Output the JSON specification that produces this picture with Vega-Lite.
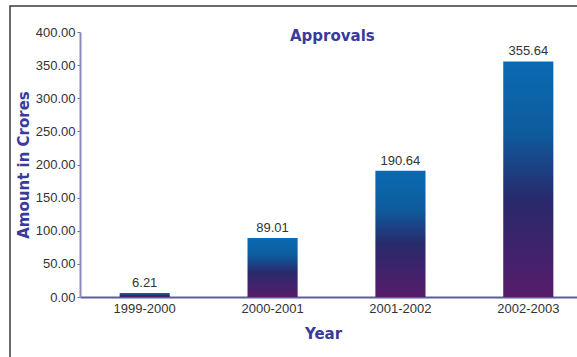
{
  "$schema": "https://vega.github.io/schema/vega-lite/v6.json",
  "autosize": "none",
  "padding": {"left": 10, "top": 6, "right": 0, "bottom": 0},
  "width": 600,
  "height": 360,
  "background": "white",
  "title": {
    "text": "Approvals",
    "font": "DejaVu Sans",
    "fontSize": 15,
    "fontWeight": "bold",
    "color": "#3a3a9c",
    "anchor": "start",
    "frame": "group",
    "dx": 280,
    "dy": 38,
    "offset": 0
  },
  "data": {
    "values": [
      {"year": "1999-2000", "amount": 6.21},
      {"year": "2000-2001", "amount": 89.01},
      {"year": "2001-2002", "amount": 190.64},
      {"year": "2002-2003", "amount": 355.64}
    ]
  },
  "encoding": {
    "x": {
      "field": "year",
      "type": "nominal",
      "sort": null,
      "scale": {"range": [70, 583], "paddingInner": 0.608, "paddingOuter": 0.31},
      "axis": {
        "title": "Year",
        "titleFont": "DejaVu Sans",
        "titleFontSize": 15,
        "titleFontWeight": "bold",
        "titleColor": "#3a3a9c",
        "titleX": 313,
        "titlePadding": 11,
        "labelAngle": 0,
        "labelFont": "Liberation Sans",
        "labelFontSize": 13,
        "labelColor": "#333333",
        "labelPadding": 5,
        "ticks": false,
        "domainColor": "#5c5ca4",
        "domainWidth": 2,
        "offset": -69
      }
    },
    "y": {
      "field": "amount",
      "type": "quantitative",
      "scale": {"domain": [0, 400], "range": [291, 26], "nice": false},
      "axis": {
        "title": "Amount in Crores",
        "titleFont": "DejaVu Sans",
        "titleFontSize": 15,
        "titleFontWeight": "bold",
        "titleColor": "#3a3a9c",
        "titlePadding": 4,
        "values": [0, 50, 100, 150, 200, 250, 300, 350, 400],
        "format": ".2f",
        "labelFont": "Liberation Sans",
        "labelFontSize": 13,
        "labelColor": "#333333",
        "labelPadding": 2,
        "tickSize": 3,
        "tickColor": "#6a6aaa",
        "domainColor": "#8a8ac0",
        "domainWidth": 2,
        "grid": false,
        "offset": -70
      }
    }
  },
  "layer": [
    {
      "mark": {
        "type": "bar",
        "color": {
          "gradient": "linear",
          "x1": 0, "y1": 0, "x2": 0, "y2": 1,
          "stops": [
            {"offset": 0, "color": "#0b6ab2"},
            {"offset": 0.3, "color": "#0d5c9e"},
            {"offset": 0.58, "color": "#282a6c"},
            {"offset": 1, "color": "#561c6a"}
          ]
        }
      }
    },
    {
      "mark": {
        "type": "text",
        "dy": -10,
        "font": "Liberation Sans",
        "fontSize": 13,
        "color": "#333333"
      },
      "encoding": {
        "text": {"field": "amount", "type": "quantitative", "format": ".2f"}
      }
    }
  ],
  "config": {
    "view": {"stroke": "#3a3a3a", "strokeWidth": 1.5}
  }
}
